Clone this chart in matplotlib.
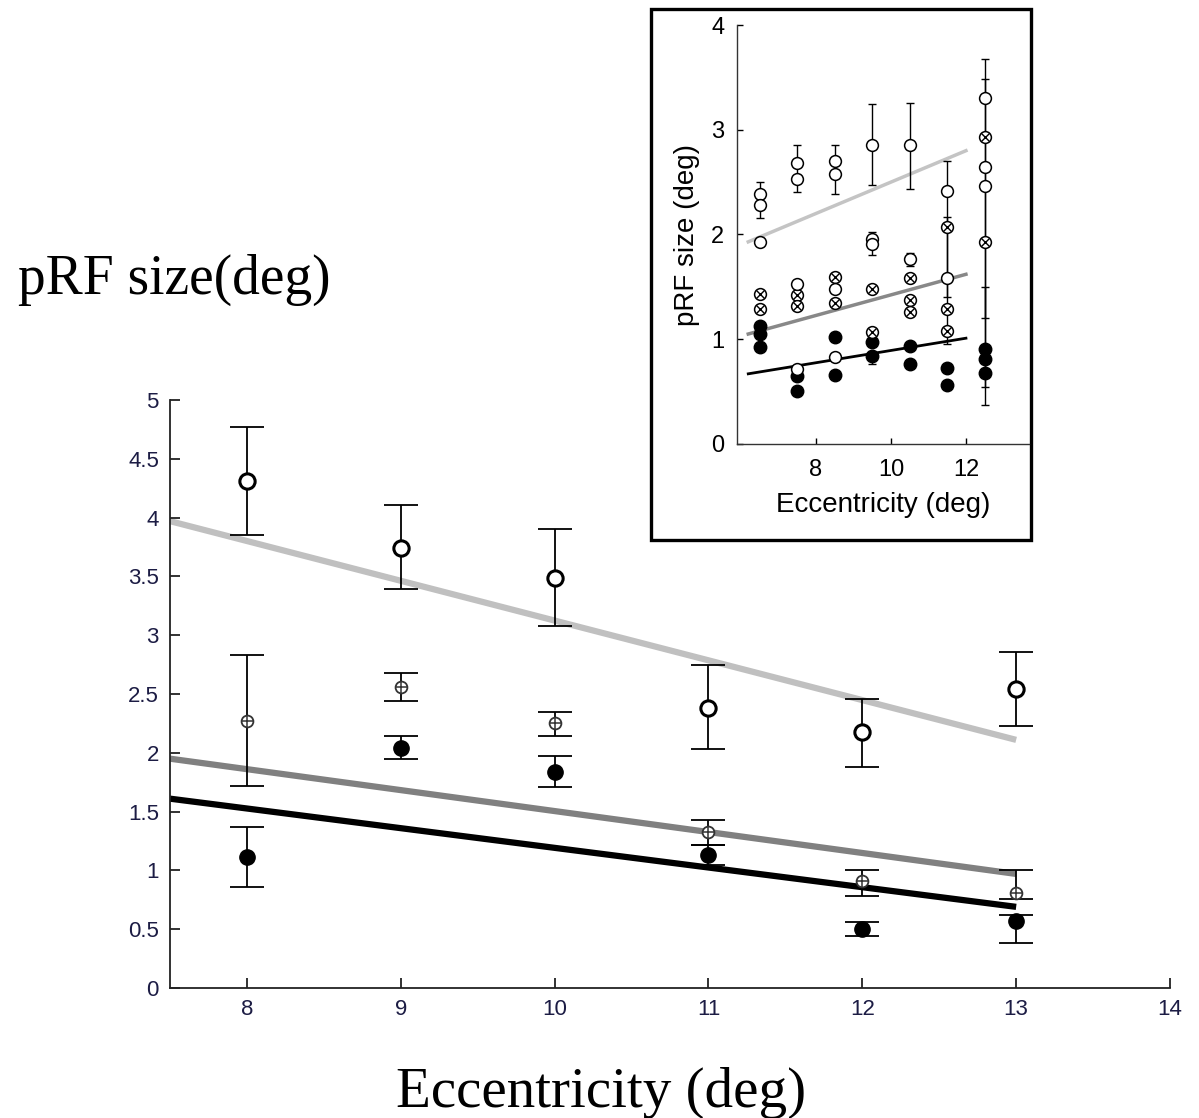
import numpy as np
import matplotlib
matplotlib.use("Agg")
import matplotlib.pyplot as plt
from matplotlib.patches import Rectangle

# ---- main panel data ----
ecc = [8, 9, 10, 11, 12, 13]

open_y = [4.31, 3.74, 3.49, 2.38, 2.18, 2.54]
open_lo = [3.85, 3.39, 3.08, 2.03, 1.88, 2.23]
open_hi = [4.77, 4.11, 3.90, 2.75, 2.46, 2.86]

cross_y = [2.27, 2.56, 2.25, 1.33, 0.91, 0.81]
cross_lo = [1.72, 2.44, 2.14, 1.22, 0.78, 0.76]
cross_hi = [2.83, 2.68, 2.35, 1.43, 1.00, 1.00]

fill_y = [1.11, 2.04, 1.84, 1.13, 0.50, 0.57]
fill_lo = [0.86, 1.95, 1.71, 1.05, 0.44, 0.38]
fill_hi = [1.37, 2.14, 1.97, 1.22, 0.56, 0.62]

fit_x = [7.5, 13]
fit_open = [3.97, 2.11]
fit_cross = [1.95, 0.97]
fit_fill = [1.61, 0.69]

yticks = [0, 0.5, 1, 1.5, 2, 2.5, 3, 3.5, 4, 4.5, 5]
ytick_labels = ['0', '0.5', '1', '1.5', '2', '2.5', '3', '3.5', '4', '4.5', '5']
xticks = [8, 9, 10, 11, 12, 13, 14]

# ---- inset data ----
ins_open_x = [6.5, 6.5, 6.5, 7.5, 7.5, 8.5, 8.5, 9.5, 9.5, 9.5, 10.5, 10.5,
              11.5, 11.5, 12.5, 12.5, 12.5, 7.5, 8.5, 8.5, 7.5]
ins_open_y = [2.39, 2.28, 1.93, 2.68, 2.53, 2.70, 2.58, 2.85, 1.96, 1.91, 2.85, 1.77,
              2.42, 1.58, 3.30, 2.64, 2.46, 1.53, 1.48, 0.83, 0.72]

ins_cross_x = [6.5, 6.5, 7.5, 7.5, 8.5, 8.5, 9.5, 9.5, 10.5, 10.5, 10.5,
               11.5, 11.5, 11.5, 12.5, 12.5]
ins_cross_y = [1.43, 1.29, 1.42, 1.32, 1.59, 1.35, 1.48, 1.07, 1.58, 1.37, 1.26,
               2.07, 1.29, 1.08, 2.93, 1.93]

ins_fill_x = [6.5, 6.5, 6.5, 7.5, 7.5, 8.5, 8.5, 9.5, 9.5, 10.5, 10.5,
              11.5, 11.5, 12.5, 12.5, 12.5]
ins_fill_y = [1.13, 1.05, 0.93, 0.65, 0.51, 1.02, 0.66, 0.97, 0.84, 0.94, 0.76,
              0.73, 0.56, 0.91, 0.81, 0.68]

ins_err_x = [6.5, 7.5, 8.5, 9.5, 10.5, 11.5, 11.5, 12.5, 12.5, 12.5, 9.5, 10.5, 9.5]
ins_err_lo = [2.16, 2.41, 2.39, 2.47, 2.43, 0.95, 1.40, 0.37, 0.54, 1.20, 1.80, 1.70, 0.76]
ins_err_hi = [2.50, 2.85, 2.85, 3.25, 3.26, 2.70, 2.17, 3.68, 3.48, 1.50, 2.02, 1.82, 0.86]

ins_fit_x = [6.2, 12]
ins_fit_open = [1.93, 2.80]
ins_fit_cross = [1.05, 1.62]
ins_fit_fill = [0.67, 1.01]

W, H = 1199, 1118
fig = plt.figure(figsize=(W / 100, H / 100), dpi=100)

def fx(px):
    return px / W

def fy(py):
    return 1 - py / H

# ---- main axes ----
ax = fig.add_axes([fx(170), fy(988), fx(1170) - fx(170), fy(400) - fy(988)])
ax.set_xlim(7.5, 14)
ax.set_ylim(0, 5)
for s in ['top', 'right']:
    ax.spines[s].set_visible(False)
for s in ['left', 'bottom']:
    ax.spines[s].set_color('#222222')
    ax.spines[s].set_linewidth(1.3)

ax.plot(fit_x, fit_open, color='#c0c0c0', lw=4.5, solid_capstyle='butt', zorder=1)
ax.plot(fit_x, fit_cross, color='#808080', lw=4.5, solid_capstyle='butt', zorder=1)
ax.plot(fit_x, fit_fill, color='black', lw=4.5, solid_capstyle='butt', zorder=1)

eb_kw = dict(fmt='none', ecolor='black', elinewidth=1.3, capsize=12.5, capthick=1.3, zorder=2)
ax.errorbar(ecc, open_y, yerr=[np.subtract(open_y, open_lo), np.subtract(open_hi, open_y)], **eb_kw)
ax.errorbar(ecc, cross_y, yerr=[np.subtract(cross_y, cross_lo), np.subtract(cross_hi, cross_y)], **eb_kw)
ax.errorbar(ecc, fill_y, yerr=[np.subtract(fill_y, fill_lo), np.subtract(fill_hi, fill_y)], **eb_kw)

ax.plot(ecc, open_y, 'o', ms=11, mfc='white', mec='black', mew=2.2, zorder=3)
ax.plot(ecc, cross_y, 'o', ms=8.5, mfc='white', mec='#333333', mew=1.3, zorder=3)
ax.plot(ecc, cross_y, '+', ms=8, mec='#333333', mew=1.1, zorder=4)
ax.plot(ecc, fill_y, 'o', ms=11, mfc='black', mec='black', zorder=3)

ax.set_xticks(xticks)
ax.set_yticks(yticks)
ax.set_yticklabels(ytick_labels)
ax.tick_params(direction='in', length=7, width=1.3, color='#222222',
               labelsize=16, labelcolor='#1c1c44', pad=8)
for lab in ax.get_xticklabels() + ax.get_yticklabels():
    lab.set_family('Liberation Sans')

fig.text(fx(18), fy(280), 'pRF size(deg)', family='Liberation Serif', fontsize=40,
         ha='left', va='center')
fig.text(fx(601), fy(1093), 'Eccentricity (deg)', family='Liberation Serif', fontsize=41,
         ha='center', va='center')

# ---- inset ----
frame = Rectangle((fx(651), fy(540)), fx(1031) - fx(651), fy(9) - fy(540),
                  transform=fig.transFigure, facecolor='white', edgecolor='black',
                  lw=2.4, zorder=5)
fig.patches.append(frame)

ia = fig.add_axes([fx(737), fy(444), fx(1029) - fx(737), fy(25) - fy(444)], zorder=6)
ia.patch.set_alpha(0)
ia.set_xlim(5.9, 13.68)
ia.set_ylim(0, 4)
for s in ['top', 'right']:
    ia.spines[s].set_visible(False)
for s in ['left', 'bottom']:
    ia.spines[s].set_color('#333333')
    ia.spines[s].set_linewidth(1.0)

ia.plot(ins_fit_x, ins_fit_open, color='#c4c4c4', lw=2.5, zorder=1)
ia.plot(ins_fit_x, ins_fit_cross, color='#888888', lw=2.5, zorder=1)
ia.plot(ins_fit_x, ins_fit_fill, color='black', lw=2.0, zorder=1)

ia.errorbar(ins_err_x, np.add(ins_err_lo, ins_err_hi) / 2,
            yerr=np.subtract(ins_err_hi, ins_err_lo) / 2,
            fmt='none', ecolor='black', elinewidth=1.0, capsize=3, capthick=1.0, zorder=2)

ia.plot(ins_fill_x, ins_fill_y, 'o', ms=9, mfc='black', mec='black', zorder=3)
ia.plot(ins_cross_x, ins_cross_y, 'o', ms=8.5, mfc='white', mec='black', mew=1.1, zorder=3)
ia.plot(ins_cross_x, ins_cross_y, 'x', ms=5.5, mec='black', mew=1.0, zorder=4)
ia.plot(ins_open_x, ins_open_y, 'o', ms=8.5, mfc='white', mec='black', mew=1.1, zorder=3)

ia.set_xticks([8, 10, 12])
ia.set_yticks([0, 1, 2, 3, 4])
ia.tick_params(direction='in', length=4, width=1.0, labelsize=17)
ia.tick_params(axis='x', pad=11)
ia.tick_params(axis='y', pad=9)
for lab in ia.get_xticklabels() + ia.get_yticklabels():
    lab.set_family('Liberation Sans')
t14 = ia.text(14, -0.04, '14', transform=ia.get_xaxis_transform(), ha='center', va='top',
              fontsize=17, family='Liberation Sans', clip_on=True)
t14.set_clip_path(frame)
ia.set_xlabel('Eccentricity (deg)', family='Liberation Sans', fontsize=20, labelpad=8)
ia.set_ylabel('pRF size (deg)', family='Liberation Sans', fontsize=20, labelpad=8)

fig.savefig('out.png', dpi=100, facecolor='white')
